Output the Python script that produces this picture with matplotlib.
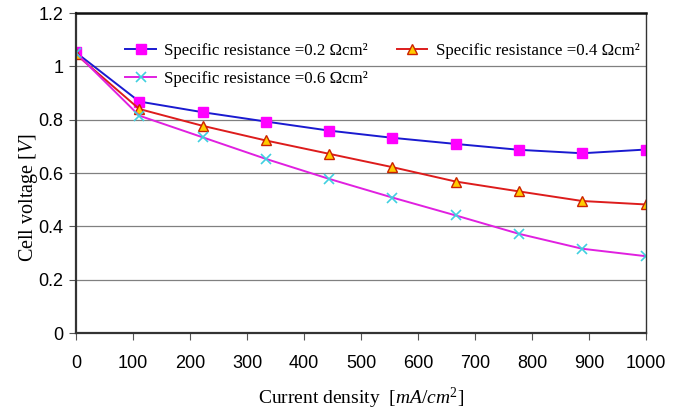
import numpy as np
import matplotlib
matplotlib.use('Agg')
import matplotlib.pyplot as plt

plt.rcParams['mathtext.fontset'] = 'custom'
plt.rcParams['mathtext.it'] = 'Liberation Serif:italic'
plt.rcParams['mathtext.rm'] = 'Liberation Serif'

current = [0, 111, 222, 333, 444, 555, 666, 777, 888, 1000]
v_02 = [1.052, 0.868, 0.828, 0.793, 0.759, 0.732, 0.709, 0.687, 0.674, 0.688]
v_04 = [1.045, 0.840, 0.777, 0.722, 0.672, 0.622, 0.568, 0.531, 0.495, 0.482]
v_06 = [1.050, 0.815, 0.734, 0.653, 0.578, 0.508, 0.441, 0.372, 0.316, 0.288]

xticks = [0, 100, 200, 300, 400, 500, 600, 700, 800, 900, 1000]
yticks = [0, 0.2, 0.4, 0.6, 0.8, 1.0, 1.2]
ytick_labels = ['0', '0.2', '0.4', '0.6', '0.8', '1', '1.2']

serif = 'Liberation Serif'
sans = 'Liberation Sans'

fig = plt.figure(figsize=(6.73, 4.11), dpi=100)
ax = fig.add_axes([76 / 673, 1 - 333 / 411, 570 / 673, 320 / 411])

l2, = ax.plot(current, v_02, color='#1a1ad0', lw=1.4, marker='s', ms=7,
              mfc='#ff00ff', mec='#ff00ff',
              label='Specific resistance =0.2 \u03a9cm\u00b2')
l4, = ax.plot(current, v_04, color='#dd1c1c', lw=1.4, marker='^', ms=7,
              mfc='#ffcc00', mec='#cc2200', mew=1,
              label='Specific resistance =0.4 \u03a9cm\u00b2')
l6, = ax.plot(current, v_06, color='#e020e0', lw=1.4, marker='x', ms=7,
              mec='#40d0e0', mew=1.2,
              label='Specific resistance =0.6 \u03a9cm\u00b2')

ax.set_xlim(0, 1000)
ax.set_ylim(0, 1.2)
ax.set_xticks(xticks)
ax.set_yticks(yticks)
ax.set_yticklabels(ytick_labels)
ax.grid(axis='y', color='#808080', lw=0.9)
ax.set_axisbelow(True)
for lab in ax.get_xticklabels() + ax.get_yticklabels():
    lab.set_fontfamily(sans)
    lab.set_fontsize(13)
ax.tick_params(axis='x', length=5, pad=11, color='#555555')
ax.tick_params(axis='y', length=5, pad=4, color='#555555')
for s in ['left', 'bottom']:
    ax.spines[s].set_linewidth(1.6)
    ax.spines[s].set_color('#333333')
ax.spines['top'].set_linewidth(1.8)
ax.spines['top'].set_color('#111111')
ax.spines['right'].set_linewidth(1.0)
ax.spines['right'].set_color('#333333')

ax.set_xlabel('Current density  [$\\mathit{mA/cm^2}$]', fontfamily=serif,
              fontsize=14, labelpad=10)
ax.set_ylabel('Cell voltage [$\\mathit{V}$]', fontfamily=serif, fontsize=14.5)
ax.yaxis.set_label_coords(-0.063, 0.425)

ax.legend(handles=[l2, l6, l4], ncol=2, frameon=False,
          loc='upper left', bbox_to_anchor=(0.06, 0.955),
          prop={'family': serif, 'size': 12.2}, handlelength=1.8,
          columnspacing=1.7, labelspacing=0.75, handletextpad=0.5)

fig.savefig('out.png', dpi=100)
